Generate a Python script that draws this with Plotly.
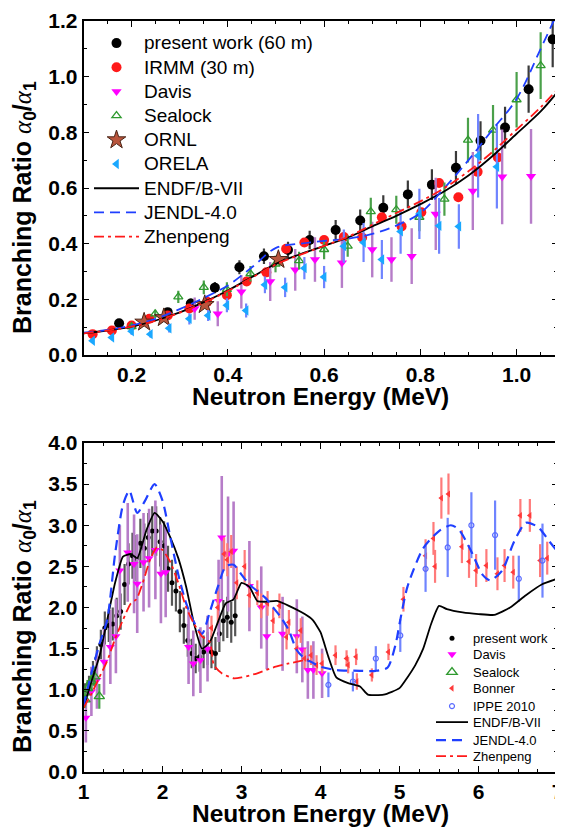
import plotly.graph_objects as go

# ---------------- data: top panel (0.1-1.1 MeV) ----------------
pw_top_x = [0.174, 0.275, 0.323, 0.373, 0.424, 0.475, 0.525, 0.570, 0.624, 0.675, 0.723, 0.774, 0.824, 0.874, 0.925, 0.976, 1.025, 1.075]
pw_top_y = [0.114, 0.154, 0.185, 0.242, 0.315, 0.355, 0.377, 0.413, 0.449, 0.483, 0.529, 0.577, 0.612, 0.673, 0.770, 0.817, 0.955, 1.134]
pw_top_e = [0.012, 0.015, 0.018, 0.02, 0.025, 0.028, 0.03, 0.033, 0.036, 0.04, 0.045, 0.05, 0.055, 0.06, 0.07, 0.075, 0.085, 0.1]

irmm_x = [0.119, 0.159, 0.2, 0.237, 0.275, 0.32, 0.357, 0.398, 0.439, 0.48, 0.521, 0.559, 0.6, 0.641, 0.679, 0.72, 0.761, 0.802, 0.839, 0.879, 0.919, 0.961]
irmm_y = [0.075, 0.088, 0.106, 0.13, 0.142, 0.167, 0.191, 0.215, 0.264, 0.297, 0.382, 0.404, 0.413, 0.424, 0.422, 0.495, 0.462, 0.513, 0.618, 0.567, 0.658, 0.71]

davis_top_x = [0.331, 0.379, 0.428, 0.488, 0.54, 0.581, 0.637, 0.70, 0.74, 0.782, 0.832, 0.909, 0.97, 1.03]
davis_top_y = [0.167, 0.148, 0.227, 0.264, 0.306, 0.343, 0.331, 0.379, 0.343, 0.355, 0.507, 0.589, 0.64, 0.642]
davis_top_e = [0.04, 0.045, 0.06, 0.07, 0.075, 0.08, 0.09, 0.1, 0.08, 0.1, 0.13, 0.14, 0.17, 0.17]

sealock_top_x = [0.2, 0.249, 0.297, 0.35, 0.398, 0.447, 0.499, 0.548, 0.6, 0.649, 0.697, 0.75, 0.798, 0.85, 0.899, 0.951, 1.0, 1.05]
sealock_top_y = [0.102, 0.148, 0.209, 0.243, 0.236, 0.292, 0.327, 0.339, 0.379, 0.391, 0.515, 0.522, 0.495, 0.56, 0.772, 0.808, 0.917, 1.04]
sealock_top_e = [0.012, 0.015, 0.022, 0.025, 0.025, 0.028, 0.03, 0.032, 0.035, 0.038, 0.05, 0.05, 0.05, 0.06, 0.08, 0.09, 0.1, 0.12]

ornl_x = [0.226, 0.267, 0.352, 0.505]
ornl_y = [0.118, 0.134, 0.181, 0.343]

orela_x = [0.119, 0.159, 0.2, 0.239, 0.278, 0.32, 0.359, 0.398, 0.438, 0.477, 0.519, 0.559, 0.6, 0.641, 0.682, 0.72, 0.759, 0.798, 0.839, 0.88, 0.92, 0.959]
orela_y = [0.051, 0.063, 0.085, 0.075, 0.096, 0.13, 0.142, 0.179, 0.16, 0.252, 0.243, 0.312, 0.28, 0.391, 0.404, 0.343, 0.444, 0.507, 0.464, 0.462, 0.716, 0.676]
orela_e = [0.008, 0.01, 0.012, 0.012, 0.015, 0.02, 0.02, 0.025, 0.025, 0.03, 0.035, 0.04, 0.04, 0.06, 0.07, 0.07, 0.08, 0.09, 0.1, 0.08, 0.15, 0.15]

eval_top_x = [0.10, 0.15, 0.20, 0.25, 0.30, 0.35, 0.40, 0.45, 0.50, 0.55, 0.60, 0.65, 0.70, 0.75, 0.80, 0.85, 0.90, 0.95, 1.00, 1.05, 1.085]
endf_top_y = [0.078, 0.088, 0.102, 0.124, 0.153, 0.19, 0.232, 0.28, 0.328, 0.362, 0.392, 0.422, 0.462, 0.5, 0.542, 0.588, 0.645, 0.715, 0.795, 0.875, 0.945]
jendl_top_y = [0.08, 0.09, 0.106, 0.13, 0.165, 0.205, 0.25, 0.315, 0.385, 0.4, 0.41, 0.418, 0.435, 0.465, 0.51, 0.6, 0.7, 0.81, 0.92, 1.1, 1.23]
zhen_top_y = [0.078, 0.088, 0.102, 0.123, 0.152, 0.188, 0.23, 0.278, 0.326, 0.36, 0.392, 0.425, 0.468, 0.51, 0.552, 0.6, 0.66, 0.73, 0.81, 0.89, 0.955]

# ---------------- data: bottom panel (1-7 MeV) ----------------
pw_bot_x = [1.02, 1.07, 1.12, 1.17, 1.22, 1.27, 1.32, 1.37, 1.42, 1.47, 1.52, 1.57, 1.62, 1.67, 1.72, 1.77, 1.82, 1.87, 1.92, 1.97,
            2.02, 2.07, 2.12, 2.17, 2.22, 2.27, 2.32, 2.37, 2.42, 2.47, 2.52, 2.57, 2.62, 2.67, 2.72, 2.77, 2.82, 2.87, 2.92]
pw_bot_y = [0.96, 1.05, 1.2, 1.38, 1.55, 1.75, 1.78, 1.8, 1.9, 1.95, 2.28, 2.53, 2.63, 2.6, 2.78, 2.72, 2.85, 2.93, 2.93, 2.8,
            2.75, 2.47, 2.3, 2.2, 1.95, 1.78, 1.6, 1.44, 1.38, 1.4, 1.46, 1.5, 1.46, 1.44, 1.68, 1.84, 1.88, 1.82, 1.9]
pw_bot_e = [0.12, 0.12, 0.15, 0.15, 0.18, 0.2, 0.2, 0.2, 0.22, 0.22, 0.25, 0.25, 0.28, 0.28, 0.3, 0.3, 0.3, 0.3, 0.3, 0.3,
            0.3, 0.28, 0.28, 0.25, 0.25, 0.22, 0.2, 0.18, 0.18, 0.18, 0.2, 0.2, 0.2, 0.2, 0.22, 0.25, 0.25, 0.25, 0.25]

davis_bot_x = [1.03, 1.1, 1.17, 1.26, 1.34, 1.41, 1.46, 1.56, 1.64, 1.68, 1.76, 1.83, 1.91, 1.98, 2.04,
               2.33, 2.39, 2.48, 2.57, 2.71, 2.75, 2.83, 2.9, 3.1, 3.25, 3.32, 3.52, 3.7, 3.77, 3.84, 3.91, 4.02]
davis_bot_y = [0.66, 0.98, 1.12, 1.34, 1.52, 1.65, 2.45, 2.67, 2.53, 2.29, 2.55, 2.6, 2.7, 2.41, 2.43,
               1.52, 1.32, 1.36, 1.5, 2.08, 2.85, 2.65, 2.69, 2.26, 2.0, 1.65, 1.68, 1.65, 1.49, 1.24, 1.24, 1.2]
davis_bot_e = [0.3, 0.3, 0.35, 0.4, 0.45, 0.45, 0.55, 0.6, 0.6, 0.6, 0.6, 0.6, 0.6, 0.6, 0.55,
               0.45, 0.4, 0.4, 0.4, 0.5, 0.75, 0.7, 0.6, 0.55, 0.5, 0.4, 0.45, 0.45, 0.4, 0.35, 0.35, 0.3]

sealock_bot_x = [1.02, 1.05, 1.1, 1.14, 1.2]
sealock_bot_y = [0.88, 1.02, 1.1, 1.16, 0.92]
sealock_bot_e = [0.1, 0.1, 0.12, 0.12, 0.15]

bonner_x = [2.62, 2.7, 2.78, 2.82, 2.87, 2.94, 3.04, 3.1, 3.2, 3.25, 3.33, 3.4, 3.48, 3.57, 3.6, 3.7, 3.75, 3.8, 3.88, 3.95,
            4.02, 4.19, 4.33, 4.35, 4.45, 4.46, 4.65, 4.86, 5.05, 5.33, 5.43, 5.45, 5.53, 5.62, 5.79, 5.88, 5.97, 6.1, 6.24, 6.33,
            6.44, 6.53, 6.65, 6.78, 6.87]
bonner_y = [1.75, 2.0, 2.65, 2.58, 2.68, 2.3, 2.5, 2.15, 2.18, 2.02, 2.05, 1.84, 2.02, 1.64, 1.82, 1.5, 1.72, 1.38, 1.42, 1.3,
            1.32, 1.42, 1.38, 1.3, 1.4, 1.1, 1.18, 1.46, 2.1, 2.63, 2.84, 2.5, 3.33, 3.38, 2.74, 2.56, 2.45, 2.51, 2.41, 2.51,
            2.43, 3.12, 3.12, 2.57, 2.6]
bonner_e = [0.15, 0.2, 0.2, 0.2, 0.2, 0.2, 0.2, 0.15, 0.15, 0.15, 0.15, 0.15, 0.15, 0.15, 0.15, 0.15, 0.15, 0.12, 0.12, 0.12,
            0.12, 0.12, 0.1, 0.1, 0.1, 0.1, 0.08, 0.1, 0.15, 0.2, 0.2, 0.2, 0.25, 0.25, 0.2, 0.2, 0.2, 0.2, 0.2, 0.2,
            0.2, 0.2, 0.2, 0.2, 0.2]

ippe_x = [4.1, 4.41, 4.7, 5.01, 5.33, 5.61, 5.91, 6.21, 6.51, 6.81]
ippe_y = [1.06, 1.1, 1.38, 1.66, 2.47, 2.73, 3.0, 2.88, 2.35, 2.57]
ippe_e = [0.15, 0.12, 0.15, 0.2, 0.28, 0.36, 0.4, 0.42, 0.28, 0.45]

endf_bot_x = [1.0, 1.1, 1.2, 1.3, 1.4, 1.5, 1.6, 1.68, 1.8, 1.9, 2.0, 2.1, 2.2, 2.3, 2.4, 2.5, 2.6, 2.7, 2.8, 2.9,
              3.0, 3.1, 3.2, 3.3, 3.45, 3.6, 3.8, 3.9, 4.0, 4.1, 4.2, 4.35, 4.5, 4.6, 4.8, 5.0, 5.1, 5.2, 5.3, 5.4,
              5.5, 5.6, 5.8, 6.0, 6.2, 6.4, 6.6, 6.8, 7.0]
endf_bot_y = [0.78, 1.1, 1.4, 1.85, 2.3, 2.62, 2.65, 2.6, 2.95, 3.15, 3.05, 2.85, 2.6, 2.25, 1.8, 1.5, 1.58, 1.82, 2.05, 2.1,
              2.3, 2.25, 2.08, 2.07, 2.08, 2.02, 1.92, 1.85, 1.7, 1.4, 1.15, 1.08, 1.04, 0.94, 0.94, 1.02, 1.15, 1.3, 1.5, 1.8,
              2.02, 1.98, 1.94, 1.92, 1.91, 2.0, 2.15, 2.28, 2.35]

jendl_bot_x = [1.0, 1.1, 1.2, 1.3, 1.4, 1.5, 1.58, 1.68, 1.78, 1.9, 2.0, 2.1, 2.2, 2.3, 2.4, 2.5, 2.6, 2.7, 2.8, 2.9,
               3.0, 3.1, 3.2, 3.3, 3.4, 3.5, 3.6, 3.7, 3.8, 3.9, 4.0, 4.2, 4.5, 4.7, 4.85, 4.95, 5.0, 5.1, 5.3, 5.5,
               5.65, 5.75, 5.9, 6.05, 6.15, 6.3, 6.45, 6.6, 6.75, 6.9, 7.0]
jendl_bot_y = [0.8, 1.2, 1.55, 1.85, 2.65, 3.25, 3.42, 3.15, 3.3, 3.5, 3.3, 2.85, 2.4, 2.05, 1.82, 1.68, 1.95, 2.25, 2.5, 2.52,
               2.4, 2.28, 2.2, 2.12, 2.0, 1.88, 1.72, 1.48, 1.38, 1.33, 1.28, 1.24, 1.23, 1.23, 1.27, 1.55, 1.8, 2.25, 2.72, 2.93,
               3.0, 2.95, 2.7, 2.4, 2.33, 2.45, 2.8, 3.03, 2.98, 2.8, 2.68]

zhen_bot_x = [1.0, 1.1, 1.2, 1.3, 1.4, 1.5, 1.6, 1.67, 1.75, 1.85, 1.93, 2.0, 2.1, 2.2, 2.3, 2.4, 2.5, 2.6, 2.65, 2.75,
              2.9, 3.0, 3.2, 3.4, 3.6, 3.85]
zhen_bot_y = [0.78, 0.95, 1.15, 1.35, 1.62, 1.85, 2.05, 2.1, 2.3, 2.6, 2.73, 2.7, 2.55, 2.3, 2.0, 1.8, 1.65, 1.58, 1.3, 1.2,
              1.14, 1.15, 1.2, 1.27, 1.32, 1.37]

x_title = "Neutron Energy (MeV)"
y_title = ('Branching Ratio <span style="font-family:Liberation Serif;font-weight:normal"><i>α</i></span>'
           '<sub>0</sub>/<span style="font-family:Liberation Serif;font-weight:normal"><i>α</i></span><sub>1</sub>')

# ---------------- figure ----------------
OFF = 8                      # page body margin offset
W, H = 563 - OFF, 827 - OFF  # figure size that fits the window
FONT = "Liberation Sans, Arial, sans-serif"


def px(v):   # screen x -> paper fraction
    return (v - OFF) / W


def py(v):   # screen y -> paper fraction
    return 1 - (v - OFF) / H


XL, XR = 83.5, 557.5

BLACK = "#000000"
RED = "#ff1a1a"
MAGENTA = "#ff00ff"
PURPLE_BAR = "#b67cc8"
GREEN = "#2f9a2f"
SKY = "#1aa8ff"
BLUE_BAR = "#6f84ff"
BLUE = "#1f3fff"


def big(t):
    return '<span style="font-size:19px">' + t + '</span>'


def small(t):
    return '<span style="font-size:13px">' + t + '</span><br>&nbsp;'


def ebar(arr, color, th=2.0):
    return dict(type="data", array=arr, color=color, thickness=th, width=0)


fig = go.Figure()

# top panel traces
fig.add_trace(go.Scatter(x=pw_top_x, y=pw_top_y, mode="markers", name=big("present work (60 m)"),
                         marker=dict(symbol="circle", size=10, color=BLACK),
                         error_y=ebar(pw_top_e, "#3a3a3a", 2.2), xaxis="x", yaxis="y", legend="legend"))
fig.add_trace(go.Scatter(x=irmm_x, y=irmm_y, mode="markers", name=big("IRMM (30 m)"),
                         marker=dict(symbol="circle", size=10, color=RED),
                         xaxis="x", yaxis="y", legend="legend"))
fig.add_trace(go.Scatter(x=davis_top_x, y=davis_top_y, mode="markers", name=big("Davis"),
                         marker=dict(symbol="triangle-down", size=9, color=MAGENTA),
                         error_y=ebar(davis_top_e, PURPLE_BAR, 2.4), xaxis="x", yaxis="y", legend="legend"))
fig.add_trace(go.Scatter(x=sealock_top_x, y=sealock_top_y, mode="markers", name=big("Sealock"),
                         marker=dict(symbol="triangle-up-open", size=8, color=GREEN, line=dict(width=1.3)),
                         error_y=ebar(sealock_top_e, "#4aa04a", 2.2), xaxis="x", yaxis="y", legend="legend"))
fig.add_trace(go.Scatter(x=ornl_x, y=ornl_y, mode="markers", name=big("ORNL"),
                         marker=dict(symbol="star", size=14, color="#b9553c", line=dict(color="#4a2416", width=1)),
                         xaxis="x", yaxis="y", legend="legend"))
fig.add_trace(go.Scatter(x=orela_x, y=orela_y, mode="markers", name=big("ORELA"),
                         marker=dict(symbol="triangle-left", size=9, color=SKY),
                         error_y=ebar(orela_e, BLUE_BAR, 2.2), xaxis="x", yaxis="y", legend="legend"))
fig.add_trace(go.Scatter(x=eval_top_x, y=endf_top_y, mode="lines", name=big("ENDF/B-VII"),
                         line=dict(color=BLACK, width=1.8, shape="spline"), xaxis="x", yaxis="y", legend="legend"))
fig.add_trace(go.Scatter(x=eval_top_x, y=jendl_top_y, mode="lines", name=big("JENDL-4.0"),
                         line=dict(color=BLUE, width=1.8, dash="10px,6px", shape="spline"), xaxis="x", yaxis="y", legend="legend"))
fig.add_trace(go.Scatter(x=eval_top_x, y=zhen_top_y, mode="lines", name=big("Zhenpeng"),
                         line=dict(color=RED, width=1.8, dash="10px,4px,3px,4px", shape="spline"), xaxis="x", yaxis="y", legend="legend"))

# bottom panel traces (legend entries alternate between legend2 and legend3)
fig.add_trace(go.Scatter(x=pw_bot_x, y=pw_bot_y, mode="markers", name=small("present work"),
                         marker=dict(symbol="circle", size=5, color=BLACK),
                         error_y=ebar(pw_bot_e, "#555555", 2.2), xaxis="x2", yaxis="y2", legend="legend2"))
fig.add_trace(go.Scatter(x=davis_bot_x, y=davis_bot_y, mode="markers", name=small("Davis"),
                         marker=dict(symbol="triangle-down", size=8, color=MAGENTA),
                         error_y=ebar(davis_bot_e, PURPLE_BAR, 2.6), xaxis="x2", yaxis="y2", legend="legend3"))
fig.add_trace(go.Scatter(x=sealock_bot_x, y=sealock_bot_y, mode="markers", name=small("Sealock"),
                         marker=dict(symbol="triangle-up-open", size=9, color=GREEN, line=dict(width=1.4)),
                         error_y=ebar(sealock_bot_e, "#4aa04a", 2.2), xaxis="x2", yaxis="y2", legend="legend2"))
fig.add_trace(go.Scatter(x=bonner_x, y=bonner_y, mode="markers", name=small("Bonner"),
                         marker=dict(symbol="triangle-left", size=6, color="#ff3a3a"),
                         error_y=ebar(bonner_e, "#ff7a7a", 2.2), xaxis="x2", yaxis="y2", legend="legend3"))
fig.add_trace(go.Scatter(x=ippe_x, y=ippe_y, mode="markers", name=small("IPPE 2010"),
                         marker=dict(symbol="circle-open", size=5, color="#5a6bff", line=dict(width=1.2)),
                         error_y=ebar(ippe_e, BLUE_BAR, 2.2), xaxis="x2", yaxis="y2", legend="legend2"))
fig.add_trace(go.Scatter(x=endf_bot_x, y=endf_bot_y, mode="lines", name=small("ENDF/B-VII"),
                         line=dict(color=BLACK, width=1.8, shape="spline", smoothing=0.5), xaxis="x2", yaxis="y2", legend="legend3"))
fig.add_trace(go.Scatter(x=jendl_bot_x, y=jendl_bot_y, mode="lines", name=small("JENDL-4.0"),
                         line=dict(color=BLUE, width=2.2, dash="10px,6px", shape="spline", smoothing=0.7), xaxis="x2", yaxis="y2", legend="legend2"))
fig.add_trace(go.Scatter(x=zhen_bot_x, y=zhen_bot_y, mode="lines", name=small("Zhenpeng"),
                         line=dict(color=RED, width=1.8, dash="10px,4px,3px,4px", shape="spline", smoothing=0.6), xaxis="x2", yaxis="y2", legend="legend3"))

tickfont = dict(family=FONT, size=21, color="black", weight="bold")
ytitlefont = dict(family=FONT, size=25, color="black", weight="bold")
xtitlefont = dict(family=FONT, size=24.5, color="black", weight="bold")

common = dict(showline=True, linecolor="black", linewidth=1.5, mirror="ticks", ticks="inside",
              ticklen=6, tickwidth=1.3, tickcolor="black", showgrid=False, zeroline=False,
              tickfont=tickfont, automargin=False, ticklabeloverflow="allow")

small_leg = dict(bgcolor="rgba(0,0,0,0)", font=dict(family=FONT, size=11.9, color="black"),
                 itemwidth=32, tracegroupgap=0, borderwidth=0, valign="top",
                 xanchor="left", yanchor="top")

fig.update_layout(
    width=W, height=H, margin=dict(l=0, r=0, t=0, b=0, autoexpand=False),
    paper_bgcolor="white", plot_bgcolor="white", showlegend=True,
    xaxis=dict(domain=[px(XL), px(XR)], anchor="y", range=[0.1, 1.085], tick0=0.2, dtick=0.2, tickformat=".1f",
               minor=dict(ticks="inside", ticklen=3.5, tickwidth=1.2, tickcolor="black", tick0=0.1, dtick=0.05),
               **common),
    yaxis=dict(domain=[py(355), py(21)], anchor="x", range=[0, 1.2], tick0=0, dtick=0.2, tickformat=".1f",
               minor=dict(ticks="inside", ticklen=3.5, tickwidth=1.2, tickcolor="black", dtick=0.1),
               **common),
    xaxis2=dict(domain=[px(XL), px(XR)], anchor="y2", range=[1, 7], tick0=1, dtick=1,
                minor=dict(ticks="inside", ticklen=3.5, tickwidth=1.2, tickcolor="black", dtick=0.25),
                **common),
    yaxis2=dict(domain=[py(772), py(443)], anchor="x2", range=[0, 4], tick0=0, dtick=0.5, tickformat=".1f",
                minor=dict(ticks="inside", ticklen=3.5, tickwidth=1.2, tickcolor="black", dtick=0.25),
                **common),
    legend=dict(x=px(89), y=py(26), xanchor="left", yanchor="top", bgcolor="rgba(0,0,0,0)",
                font=dict(family=FONT, size=16.3, color="black"), itemwidth=45, tracegroupgap=0,
                borderwidth=0),
    legend2=dict(x=px(431), y=py(624), **small_leg),
    legend3=dict(x=px(431), y=py(640), **small_leg),
    annotations=[
        dict(text=x_title, xref="paper", yref="paper", x=px((XL + XR) / 2), y=py(396),
             xanchor="center", yanchor="middle", showarrow=False, font=xtitlefont),
        dict(text=x_title, xref="paper", yref="paper", x=px((XL + XR) / 2), y=py(813.5),
             xanchor="center", yanchor="middle", showarrow=False, font=xtitlefont),
        dict(text=y_title, xref="paper", yref="paper", x=px(24), y=py(208), textangle=-90,
             xanchor="center", yanchor="middle", showarrow=False, font=ytitlefont),
        dict(text=y_title, xref="paper", yref="paper", x=px(24), y=py(627), textangle=-90,
             xanchor="center", yanchor="middle", showarrow=False, font=ytitlefont),
    ],
)

fig.write_html("out.html")
